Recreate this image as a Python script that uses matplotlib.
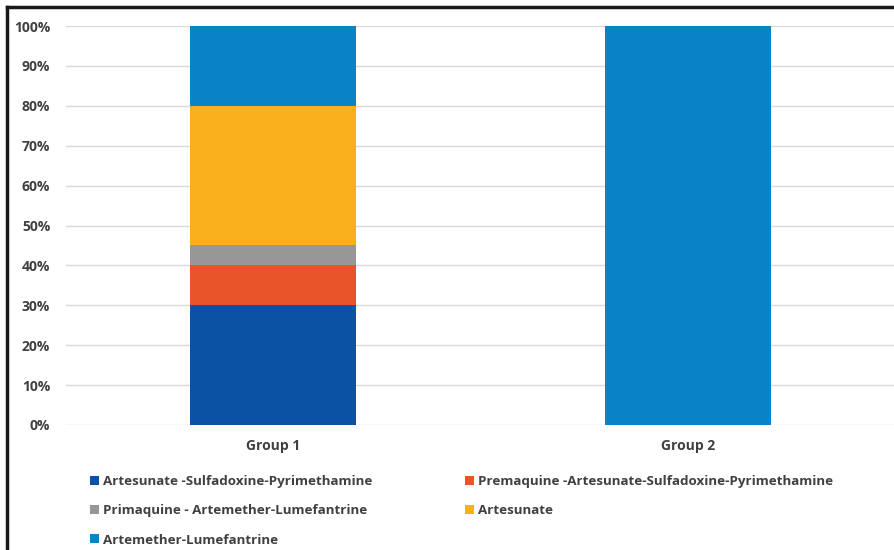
import numpy as np
import matplotlib.pyplot as plt
from matplotlib.patches import Patch
from matplotlib.lines import Line2D

groups = ['Group 1', 'Group 2']
regimens = [
    'Artesunate -Sulfadoxine-Pyrimethamine',
    'Premaquine -Artesunate-Sulfadoxine-Pyrimethamine',
    'Primaquine - Artemether-Lumefantrine',
    'Artesunate',
    'Artemether-Lumefantrine',
]
# share of patients per regimen, stacked bottom to top
shares = {
    'Artesunate -Sulfadoxine-Pyrimethamine': [0.30, 0.0],
    'Premaquine -Artesunate-Sulfadoxine-Pyrimethamine': [0.10, 0.0],
    'Primaquine - Artemether-Lumefantrine': [0.05, 0.0],
    'Artesunate': [0.35, 0.0],
    'Artemether-Lumefantrine': [0.20, 1.00],
}
colors = ['#0B52A4', '#E8532A', '#979797', '#F9B01C', '#0A82C8']

plt.rcParams['font.family'] = ['Open Sans', 'DejaVu Sans']
text_color = '#404040'

fig = plt.figure(figsize=(8.94, 5.5), dpi=100)
ax = fig.add_axes([65.5 / 894, 125 / 550, 830 / 894, 399 / 550])

x = np.arange(len(groups))
bottom = np.zeros(len(groups))
for name, c in zip(regimens, colors):
    vals = np.array(shares[name])
    ax.bar(x, vals, width=0.4, bottom=bottom, color=c, zorder=3)
    bottom += vals

ax.set_xlim(-0.5, 1.5)
ax.set_ylim(0, 1)
ax.set_yticks(np.arange(0, 1.01, 0.1))
ax.set_yticklabels([f'{int(round(v * 100))}%' for v in np.arange(0, 1.01, 0.1)])
ax.set_xticks(x)
ax.set_xticklabels(groups)
ax.tick_params(length=0, labelsize=10, labelcolor=text_color)
ax.tick_params(axis='y', pad=11)
ax.tick_params(axis='x', pad=10)
for lab in ax.get_xticklabels() + ax.get_yticklabels():
    lab.set_fontweight('bold')
ax.grid(axis='y', color='#D9D9D9', linewidth=1, zorder=0)
for s in ax.spines.values():
    s.set_visible(False)

handles = [Patch(facecolor=c, edgecolor='none') for c in colors]
# two columns, filled row by row
order = [0, 2, 4, 1, 3]
leg = fig.legend([handles[i] for i in order], [regimens[i] for i in order],
                 ncol=2, loc='upper left', bbox_to_anchor=(78 / 894, 1 - 463 / 550),
                 frameon=False, fontsize=9.6, handlelength=0.65, handleheight=0.65,
                 handletextpad=0.3, labelspacing=1.22, columnspacing=7.0)
for t in leg.get_texts():
    t.set_fontweight('bold')
    t.set_color(text_color)

# dark frame along the top and left edges
fig.add_artist(Line2D([6.5 / 894, 1.0], [1 - 6.5 / 550] * 2, transform=fig.transFigure,
                      color='#1A1A1A', linewidth=2.5))
fig.add_artist(Line2D([6.5 / 894] * 2, [0, 1 - 6.5 / 550], transform=fig.transFigure,
                      color='#1A1A1A', linewidth=2.5))

fig.savefig('out.png', dpi=100)
